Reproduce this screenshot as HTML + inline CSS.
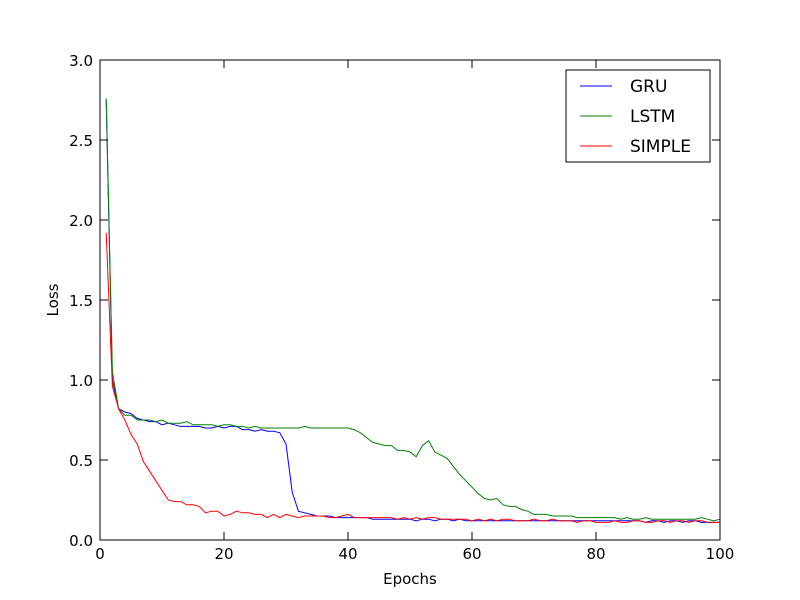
<!DOCTYPE html>
<html><head><meta charset="utf-8"><style>
html,body{margin:0;padding:0;background:#fff;}
svg{display:block;font-family:"DejaVu Sans","Liberation Sans",sans-serif;}
</style></head><body>
<svg id="chart" width="800" height="600">
<rect width="800" height="600" fill="#fff"/>
<g id="lines"></g>
<rect x="100" y="60" width="620" height="480" fill="none" stroke="#000" stroke-width="1"/>
<g id="ticks"></g>
<text x="410" y="584" text-anchor="middle" font-size="15">Epochs</text>
<text x="58" y="300" text-anchor="middle" font-size="15" transform="rotate(-90 58 300)">Loss</text>
<g>
<rect x="566" y="70" width="144" height="92" fill="#fff" stroke="#000"/>
<line x1="580" y1="86" x2="612" y2="86" stroke="#0000ff"/>
<text x="630" y="92" font-size="17">GRU</text>
<line x1="580" y1="116" x2="612" y2="116" stroke="#008000"/>
<text x="630" y="122" font-size="17">LSTM</text>
<line x1="580" y1="146" x2="612" y2="146" stroke="#ff0000"/>
<text x="630" y="152" font-size="17">SIMPLE</text>
</g>
</svg>
<script>
const xTicks=[0,20,40,60,80,100];
const yTicks=[0.0,0.5,1.0,1.5,2.0,2.5,3.0];
const gru=[2.75,1.0,0.82,0.80,0.79,0.76,0.75,0.74,0.74,0.72,0.73,0.72,0.71,0.71,0.71,0.71,0.70,0.70,0.71,0.70,0.71,0.71,0.69,0.69,0.68,0.69,0.68,0.68,0.67,0.60,0.30,0.18,0.17,0.16,0.15,0.15,0.15,0.14,0.14,0.14,0.14,0.14,0.14,0.13,0.13,0.13,0.13,0.13,0.13,0.13,0.12,0.13,0.13,0.12,0.13,0.13,0.12,0.13,0.12,0.12,0.12,0.12,0.12,0.12,0.12,0.12,0.12,0.12,0.12,0.12,0.12,0.12,0.12,0.12,0.12,0.12,0.12,0.12,0.12,0.12,0.12,0.12,0.12,0.12,0.12,0.12,0.12,0.11,0.12,0.12,0.11,0.12,0.12,0.11,0.12,0.12,0.11,0.11,0.11,0.11];
const lstm=[2.76,1.05,0.82,0.78,0.78,0.75,0.75,0.75,0.74,0.75,0.73,0.73,0.73,0.74,0.72,0.72,0.72,0.72,0.71,0.72,0.72,0.71,0.71,0.70,0.71,0.70,0.70,0.70,0.70,0.70,0.70,0.70,0.71,0.70,0.70,0.70,0.70,0.70,0.70,0.70,0.69,0.67,0.64,0.61,0.60,0.59,0.59,0.56,0.56,0.55,0.52,0.59,0.62,0.55,0.53,0.51,0.46,0.41,0.37,0.33,0.29,0.26,0.25,0.26,0.22,0.21,0.21,0.19,0.18,0.16,0.16,0.16,0.15,0.15,0.15,0.15,0.14,0.14,0.14,0.14,0.14,0.14,0.14,0.13,0.14,0.13,0.13,0.14,0.13,0.13,0.13,0.13,0.13,0.13,0.13,0.13,0.14,0.13,0.12,0.13];
const simple=[1.92,0.96,0.82,0.75,0.66,0.60,0.49,0.43,0.37,0.31,0.25,0.24,0.24,0.22,0.22,0.21,0.17,0.18,0.18,0.15,0.16,0.18,0.17,0.17,0.16,0.16,0.14,0.16,0.14,0.16,0.15,0.14,0.15,0.15,0.15,0.15,0.14,0.14,0.15,0.16,0.14,0.14,0.14,0.14,0.14,0.14,0.14,0.13,0.14,0.13,0.14,0.13,0.14,0.14,0.13,0.13,0.13,0.13,0.13,0.12,0.13,0.12,0.13,0.12,0.13,0.13,0.12,0.12,0.12,0.13,0.12,0.12,0.13,0.12,0.12,0.12,0.11,0.12,0.12,0.11,0.11,0.11,0.12,0.11,0.11,0.12,0.12,0.11,0.11,0.12,0.12,0.11,0.12,0.12,0.11,0.12,0.12,0.11,0.11,0.11];
const X=v=>100+v*6.2, Y=v=>540-v*160;
const NS="http://www.w3.org/2000/svg";
const lines=document.getElementById('lines'), ticks=document.getElementById('ticks');
function series(arr,color,name){
  const p=document.createElementNS(NS,'polyline');
  p.setAttribute('points',arr.map((v,i)=>X(i+1)+','+Y(v)).join(' '));
  p.setAttribute('fill','none');p.setAttribute('stroke',color);p.setAttribute('stroke-width','1');
  
  
  lines.appendChild(p);
}
series(gru,'#0000ff','gru-line');
series(lstm,'#008000','lstm-line');
series(simple,'#ff0000','simple-line');
function mk(tag,attrs){const e=document.createElementNS(NS,tag);for(const k in attrs)e.setAttribute(k,attrs[k]);return e;}
xTicks.forEach(t=>{
  const x=X(t);
  const a=mk('line',{x1:x,y1:540,x2:x,y2:532,stroke:'#000'});ticks.appendChild(a);
  const b=mk('line',{x1:x,y1:60,x2:x,y2:68,stroke:'#000'});ticks.appendChild(b);
  const l=mk('text',{x:x,y:559,'text-anchor':'middle','font-size':'15'});l.textContent=t;
  
  
  ticks.appendChild(l);
});
yTicks.forEach(t=>{
  const y=Y(t);
  const a=mk('line',{x1:100,y1:y,x2:108,y2:y,stroke:'#000'});ticks.appendChild(a);
  const b=mk('line',{x1:720,y1:y,x2:712,y2:y,stroke:'#000'});ticks.appendChild(b);
  const l=mk('text',{x:93,y:y+6,'text-anchor':'end','font-size':'15'});l.textContent=t.toFixed(1);
  
  
  ticks.appendChild(l);
});
</script>
</body></html>
